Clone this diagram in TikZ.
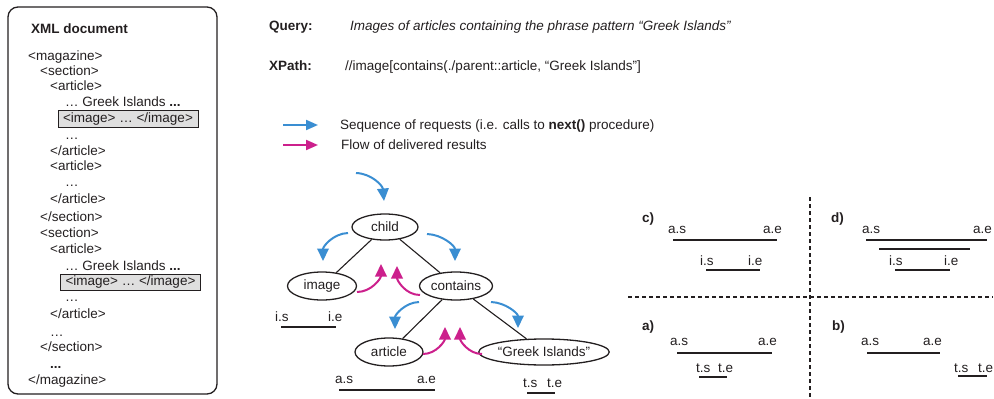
\documentclass[tikz,border=0pt]{standalone}
\usepackage{fontspec}
\setmainfont{Liberation Sans}
\usetikzlibrary{shapes.geometric,arrows.meta}
\definecolor{txt}{RGB}{35,31,32}
\definecolor{reqblue}{RGB}{58,142,210}
\definecolor{resmag}{RGB}{204,32,140}
\begin{document}
\begin{tikzpicture}[x=1pt,y=1pt,
  txtbase/.style={font=\fontsize{13.5}{16}\selectfont, text=txt, inner sep=0pt},
  lbl/.style={txtbase, anchor=base west},
  ell/.style={ellipse, draw=txt, line width=1.3pt, txtbase},
  treeline/.style={draw=txt, line width=1.1pt},
  ivl/.style={draw=txt, line width=1.1pt},
  reqarrow/.style={draw=reqblue, line width=2pt, -{Triangle[length=12.5pt,width=11.5pt]}},
  resarrow/.style={draw=resmag, line width=2pt, -{Triangle[length=12.5pt,width=11.5pt]}},
  legarrow/.style={line width=2pt, -{Triangle[length=12pt,width=10pt]}},
  sepline/.style={draw=txt, line width=1.1pt, dash pattern=on 4pt off 3pt},
  imgbox/.style={txtbase, draw=txt, fill=gray!25, line width=1pt, minimum width=140pt, minimum height=16.5pt},
]
\useasboundingbox (0,0) rectangle (994,-399);

% ---------- XML document box ----------
\node[draw=txt, line width=1.3pt, rounded corners=10pt, minimum width=209pt, minimum height=387pt, inner sep=0pt] (xmlbox) at (112.5,-200.5) {};
\node[lbl, font=\fontsize{13.5}{16}\selectfont\bfseries] (xmltitle) at (31,-33) {XML document};
\node[lbl] (x1)  at (28,-60)    {<magazine>};
\node[lbl] (x2)  at (40,-75)    {<section>};
\node[lbl] (x3)  at (50,-90.7)  {<article>};
\node[lbl] (x4)  at (65,-106)   {… Greek Islands \textbf{...}};
\node[imgbox] (img1) at (128,-119) {<image> … </image>};
\node[lbl] (x6)  at (65,-139)   {…};
\node[lbl] (x7)  at (50,-155)   {</article>};
\node[lbl] (x8)  at (50,-170.7) {<article>};
\node[lbl] (x9)  at (65,-186.7) {…};
\node[lbl] (x10) at (50,-203)   {</article>};
\node[lbl] (x11) at (40,-221.7) {</section>};
\node[lbl] (x12) at (40,-237.3) {<section>};
\node[lbl] (x13) at (50,-253.3) {<article>};
\node[lbl] (x14) at (65,-270.7) {… Greek Islands \textbf{...}};
\node[imgbox] (img2) at (130.5,-282.5) {<image> … </image>};
\node[lbl] (x16) at (65,-301.7) {…};
\node[lbl] (x17) at (50,-318.3) {</article>};
\node[lbl] (x18) at (50,-336.7) {…};
\node[lbl] (x19) at (40,-351.7) {</section>};
\node[lbl] (x20) at (50,-368.3) {\textbf{...}};
\node[lbl] (x21) at (28,-384)   {</magazine>};

% ---------- Query / XPath ----------
\node[lbl, font=\fontsize{13.5}{16}\selectfont\bfseries] (qlab) at (269,-30) {Query:};
\node[lbl, font=\fontsize{13.5}{16}\selectfont\itshape] (qtxt) at (350,-30) {Images of articles containing the phrase pattern “Greek Islands”};
\node[lbl, font=\fontsize{13.5}{16}\selectfont\bfseries] (xlab) at (269,-70.7) {XPath:};
\node[lbl] (xtxt) at (345,-70.7) {//image[contains(./parent::article, “Greek Islands”]};

% ---------- Legend ----------
\coordinate (lb1) at (283,-125);
\coordinate (lb2) at (318,-125);
\coordinate (lm1) at (283,-145);
\coordinate (lm2) at (318,-145);
\draw[legarrow, draw=reqblue] (lb1) -- (lb2);
\draw[legarrow, draw=resmag] (lm1) -- (lm2);
\node[lbl] (leg1) at (340,-129.3) {Sequence of requests (i.e. calls to \textbf{next()} procedure)};
\node[lbl] (leg2) at (341,-149) {Flow of delivered results};

% ---------- Tree ----------
\node[ell, minimum width=66pt, minimum height=26pt] (child) at (385,-227) {child};
\node[ell, minimum width=69pt, minimum height=28pt] (image) at (322,-286) {image};
\node[ell, minimum width=73pt, minimum height=28pt] (contains) at (456,-286) {contains};
\node[ell, minimum width=68pt, minimum height=28pt] (article) at (389,-352) {article};
\node[ell, minimum width=122pt, minimum height=26pt] (greek) at (544,-352) {“Greek Islands”};
\draw[treeline] (child) -- (image);
\draw[treeline] (child) -- (contains);
\draw[treeline] (contains) -- (article);
\draw[treeline] (contains) -- (greek);

% request arrows (blue)
\coordinate (r0s) at (356,-173);  \coordinate (r0e) at (384,-201);
\coordinate (r1s) at (348,-233);  \coordinate (r1e) at (323,-261);
\coordinate (r2s) at (427,-234);  \coordinate (r2e) at (455,-261);
\coordinate (r3s) at (419,-302);  \coordinate (r3e) at (395,-329);
\coordinate (r4s) at (491,-302);  \coordinate (r4e) at (518,-328);
\draw[reqarrow] (r0s) to[out=-2,in=95] (r0e);
\draw[reqarrow] (r1s) to[out=182,in=90] (r1e);
\draw[reqarrow] (r2s) to[out=-2,in=90] (r2e);
\draw[reqarrow] (r3s) to[out=182,in=90] (r3e);
\draw[reqarrow] (r4s) to[out=-2,in=90] (r4e);

% result arrows (magenta)
\coordinate (m1s) at (357,-292);  \coordinate (m1e) at (381,-264);
\coordinate (m2s) at (420,-295);  \coordinate (m2e) at (397,-266);
\coordinate (m3s) at (423,-354);  \coordinate (m3e) at (445,-327);
\coordinate (m4s) at (482,-354);  \coordinate (m4e) at (460,-327);
\draw[resarrow] (m1s) to[out=0,in=-90] (m1e);
\draw[resarrow] (m2s) to[out=180,in=-90] (m2e);
\draw[resarrow] (m3s) to[out=0,in=-90] (m3e);
\draw[resarrow] (m4s) to[out=180,in=-90] (m4e);

% intervals under tree
\node[lbl] (tis) at (275,-321) {i.s};
\node[lbl] (tie) at (328,-321) {i.e};
\coordinate (ti1) at (281,-327); \coordinate (ti2) at (336,-327);
\draw[ivl] (ti1) -- (ti2);
\node[lbl] (tas) at (335,-383) {a.s};
\node[lbl] (tae) at (417,-383) {a.e};
\coordinate (ta1) at (339,-390); \coordinate (ta2) at (435,-390);
\draw[ivl] (ta1) -- (ta2);
\node[lbl] (tts) at (523,-387) {t.s};
\node[lbl] (tte) at (547,-387) {t.e};
\coordinate (tt1) at (527,-393); \coordinate (tt2) at (555,-393);
\draw[ivl] (tt1) -- (tt2);

% ---------- Right panel ----------
\coordinate (vs1) at (810,-197); \coordinate (vs2) at (810,-399);
\coordinate (hs1) at (628,-297); \coordinate (hs2) at (993,-297);
\draw[sepline] (vs1) -- (vs2);
\draw[sepline] (hs1) -- (hs2);

% c)
\node[lbl, font=\fontsize{13.5}{16}\selectfont\bfseries] (pc) at (642,-222) {c)};
\node[lbl] (cas) at (668,-233) {a.s};
\node[lbl] (cae) at (763,-233) {a.e};
\coordinate (ca1) at (673,-240); \coordinate (ca2) at (777,-240);
\draw[ivl] (ca1) -- (ca2);
\node[lbl] (cis) at (700,-265) {i.s};
\node[lbl] (cie) at (748,-265) {i.e};
\coordinate (ci1) at (706,-270); \coordinate (ci2) at (760,-270);
\draw[ivl] (ci1) -- (ci2);

% d)
\node[lbl, font=\fontsize{13.5}{16}\selectfont\bfseries] (pd) at (831,-222) {d)};
\node[lbl] (das) at (862,-233) {a.s};
\node[lbl] (dae) at (973,-233) {a.e};
\coordinate (da1) at (866,-240); \coordinate (da2) at (987,-240);
\draw[ivl] (da1) -- (da2);
\coordinate (db1) at (879,-249); \coordinate (db2) at (970,-249);
\draw[ivl] (db1) -- (db2);
\node[lbl] (dis) at (889,-265) {i.s};
\node[lbl] (die) at (944,-265) {i.e};
\coordinate (di1) at (895,-270); \coordinate (di2) at (950,-270);
\draw[ivl] (di1) -- (di2);

% a)
\node[lbl, font=\fontsize{13.5}{16}\selectfont\bfseries] (pa) at (642,-330) {a)};
\node[lbl] (aas) at (670,-345) {a.s};
\node[lbl] (aae) at (758,-345) {a.e};
\coordinate (aa1) at (677,-353); \coordinate (aa2) at (772,-353);
\draw[ivl] (aa1) -- (aa2);
\node[lbl] (ats) at (696,-372) {t.s};
\node[lbl] (ate) at (718,-372) {t.e};
\coordinate (at1) at (699,-377); \coordinate (at2) at (727,-377);
\draw[ivl] (at1) -- (at2);

% b)
\node[lbl, font=\fontsize{13.5}{16}\selectfont\bfseries] (pb) at (832,-330) {b)};
\node[lbl] (bas) at (861,-345) {a.s};
\node[lbl] (bae) at (923,-345) {a.e};
\coordinate (ba1) at (867,-353); \coordinate (ba2) at (940,-353);
\draw[ivl] (ba1) -- (ba2);
\node[lbl] (bts) at (954,-372) {t.s};
\node[lbl] (bte) at (978,-372) {t.e};
\coordinate (bt1) at (958,-376); \coordinate (bt2) at (987,-376);
\draw[ivl] (bt1) -- (bt2);
\end{tikzpicture}
\end{document}
